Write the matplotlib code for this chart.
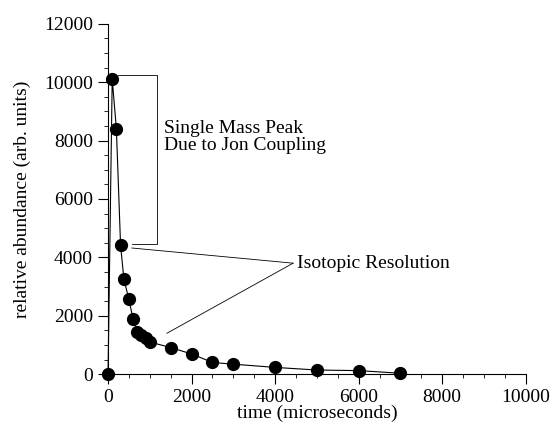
import matplotlib
matplotlib.use("Agg")
import matplotlib.pyplot as plt
from matplotlib.ticker import MultipleLocator

plt.rcParams.update({
    "font.family": ["Liberation Serif", "DejaVu Serif"],
    "font.size": 14,
})

# data
time_us = [0, 100, 200, 300, 380, 500, 600, 700, 800, 900, 1000,
           1500, 2000, 2500, 3000, 4000, 5000, 6000, 7000]
abundance = [0, 10100, 8400, 4420, 3250, 2560, 1880, 1450, 1340, 1220, 1100,
             910, 690, 400, 340, 230, 140, 120, 30]

# annotation anchors (data coords)
bracket_x = [250, 1165, 1165, 570]
bracket_y = [10260, 10260, 4470, 4470]
iso_vertex = (4430, 3800)
iso_targets = [(570, 4320), (1410, 1400)]

fig = plt.figure(figsize=(5.54, 4.33), dpi=100)
ax = fig.add_axes([0.195, 0.136, 0.754, 0.809])

ax.plot(time_us, abundance, color="black", linewidth=0.8, marker="o",
        markersize=8.5, markerfacecolor="black", markeredgecolor="black",
        clip_on=False, zorder=3)

# bracket for the single mass peak
ax.plot(bracket_x, bracket_y, color="black", linewidth=0.6)
ax.text(1330, 8120, "Single Mass Peak\nDue to Jon Coupling",
        ha="left", va="center", linespacing=1.0)

# isotopic resolution pointers
for tx, ty in iso_targets:
    ax.plot([iso_vertex[0], tx], [iso_vertex[1], ty], color="black", linewidth=0.6)
ax.text(4520, 3780, "Isotopic Resolution", ha="left", va="center")

ax.set_xlim(0, 10000)
ax.set_ylim(0, 12000)
ax.xaxis.set_major_locator(MultipleLocator(2000))
ax.xaxis.set_minor_locator(MultipleLocator(500))
ax.yaxis.set_major_locator(MultipleLocator(2000))
ax.yaxis.set_minor_locator(MultipleLocator(500))
ax.tick_params(which="major", length=7, width=0.8, pad=4)
ax.tick_params(which="minor", length=3, width=0.6)

for side in ("top", "right"):
    ax.spines[side].set_visible(False)
for side in ("left", "bottom"):
    ax.spines[side].set_linewidth(0.8)

ax.set_xlabel("time (microseconds)", labelpad=-1)
ax.set_ylabel("relative abundance (arb. units)", labelpad=9)

fig.savefig("out.png", dpi=100)
plt.close(fig)
